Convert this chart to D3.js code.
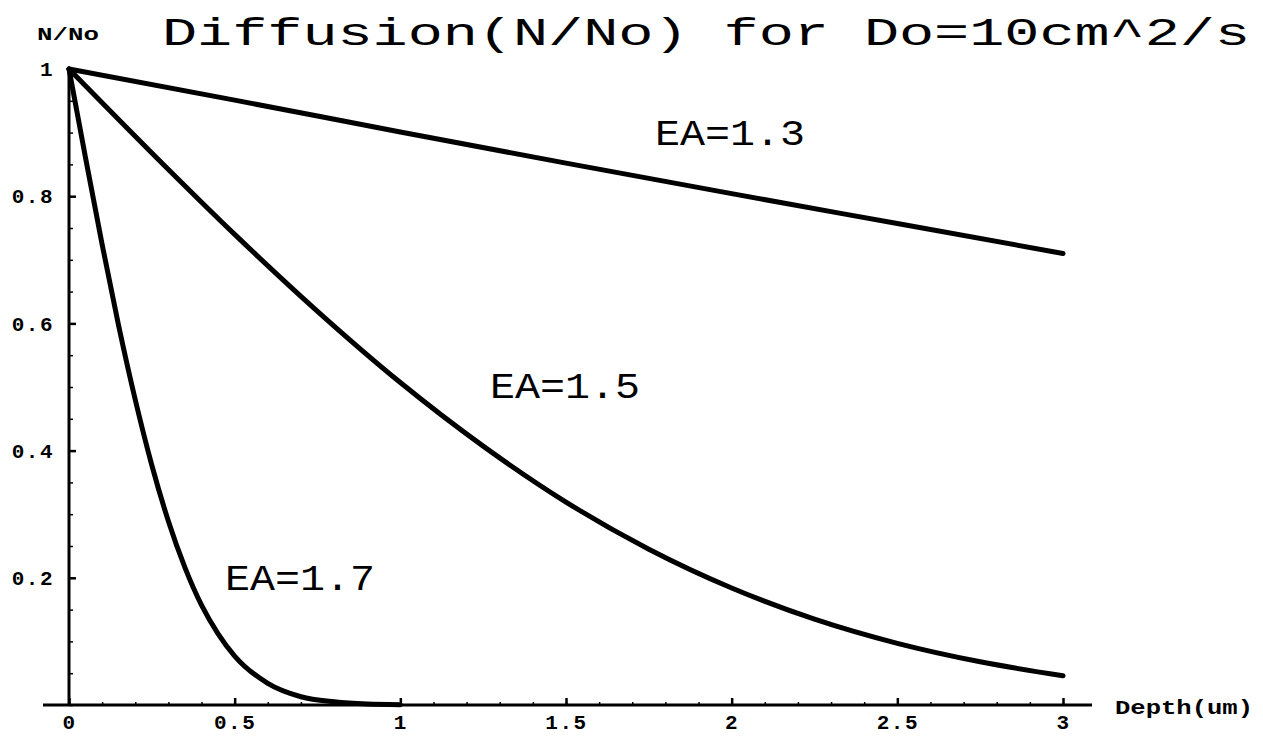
<!DOCTYPE html>
<html>
<head>
<meta charset="utf-8">
<script src="https://cdn.jsdelivr.net/npm/d3@7"></script>
<style>
  html, body { margin: 0; padding: 0; background: #fff; }
  svg { display: block; }
</style>
</head>
<body>
<svg id="chart" width="1263" height="739"></svg>
<script>
// ---- data ----
const depth13 = [0, 0.5, 1, 1.5, 2, 2.5, 3];
const ratio13 = [1, 0.951, 0.901, 0.852, 0.804, 0.757, 0.710];

const depth15 = [0, 0.25, 0.5, 0.75, 1, 1.25, 1.5, 1.75, 2, 2.25, 2.5, 2.75, 3];
const ratio15 = [1, 0.868, 0.740, 0.619, 0.507, 0.407, 0.319, 0.245, 0.184, 0.135, 0.097, 0.068, 0.046];

const depth17 = [0, 0.05, 0.1, 0.15, 0.2, 0.25, 0.3, 0.35, 0.4, 0.45, 0.5, 0.6, 0.7, 0.8, 0.9, 1.0];
const ratio17 = [1, 0.860, 0.724, 0.596, 0.480, 0.377, 0.289, 0.216, 0.157, 0.112, 0.077, 0.034, 0.013, 0.005, 0.0015, 0.0005];

const seriesNames = ["EA=1.3", "EA=1.5", "EA=1.7"];
const labelPos = [[1.769, 0.880], [1.271, 0.483], [0.471, 0.181]]; // label anchor (left, baseline) in data units

const xMajorTicks = [0, 0.5, 1, 1.5, 2, 2.5, 3];
const xTickLabels = ["0", "0.5", "1", "1.5", "2", "2.5", "3"];
const yMajorTicks = [0.2, 0.4, 0.6, 0.8, 1];
const yTickLabels = ["0.2", "0.4", "0.6", "0.8", "1"];

const titleText = "Diffusion(N/No) for Do=10cm^2/s";
const yAxisTitle = "N/No";
const xAxisTitle = "Depth(um)";

// ---- drawing ----
const svg = d3.select("#chart");
const x = d3.scaleLinear().domain([0, 3]).range([69, 1063]);
const y = d3.scaleLinear().domain([0, 1]).range([705, 69]);

const mono = "'Liberation Mono', 'DejaVu Sans Mono', monospace";

const xMinor = d3.range(0, 3.0001, 0.1).map(v => +v.toFixed(2));
const yMinor = d3.range(0, 1.0001, 0.05).map(v => +v.toFixed(2));

// X axis
const gx = svg.append("g").attr("transform", `translate(0,${y(0)})`);
gx.append("line").attr("x1", 43).attr("x2", 1092).attr("y1", 0).attr("y2", 0)
  .attr("stroke", "#000").attr("stroke-width", 3);
gx.call(d3.axisTop(x).tickValues(xMinor).tickSize(3).tickFormat(""))
  .call(g => g.select(".domain").remove())
  .call(g => g.selectAll(".tick line").attr("stroke-width", 1.5));
svg.append("g").attr("transform", `translate(0,${y(0)})`)
  .call(d3.axisTop(x).tickValues(xMajorTicks).tickSize(7).tickFormat(""))
  .call(g => g.select(".domain").remove())
  .call(g => g.selectAll(".tick line").attr("stroke-width", 2.5));
const gxl = svg.append("g").attr("transform", `translate(0,${y(0)})`)
  .call(d3.axisBottom(x).tickValues(xMajorTicks).tickSize(0).tickPadding(11)
    .tickFormat((d, i) => xTickLabels[i]))
  .call(g => g.select(".domain").remove());
gxl.selectAll("text").attr("font-family", mono).attr("font-size", 21)
  .attr("font-weight", "bold").attr("fill", "#000")
  .attr("dy", "0.62em")
  .attr("letter-spacing", 1.5);

// Y axis
const gy = svg.append("g").attr("transform", `translate(${x(0)},0)`);
gy.append("line").attr("x1", 0).attr("x2", 0).attr("y1", y(1) - 1).attr("y2", y(0) + 1)
  .attr("stroke", "#000").attr("stroke-width", 3);
gy.call(d3.axisRight(y).tickValues(yMinor).tickSize(4).tickFormat(""))
  .call(g => g.select(".domain").remove())
  .call(g => g.selectAll(".tick line").attr("stroke-width", 1.5));
svg.append("g").attr("transform", `translate(${x(0)},0)`)
  .call(d3.axisRight(y).tickValues(yMajorTicks).tickSize(7).tickFormat(""))
  .call(g => g.select(".domain").remove())
  .call(g => g.selectAll(".tick line").attr("stroke-width", 2.5));
const gyl = svg.append("g").attr("transform", `translate(${x(0)},0)`)
  .call(d3.axisLeft(y).tickValues(yMajorTicks).tickSize(0).tickPadding(15)
    .tickFormat((d, i) => yTickLabels[i]))
  .call(g => g.select(".domain").remove());
gyl.selectAll("text").attr("font-family", mono).attr("font-size", 21)
  .attr("font-weight", "bold").attr("fill", "#000").attr("letter-spacing", 1.5);

// Curves
const line = d3.line().x(d => x(d[0])).y(d => y(d[1])).curve(d3.curveMonotoneX);
const series = [
  d3.zip(depth13, ratio13),
  d3.zip(depth15, ratio15),
  d3.zip(depth17, ratio17)
];
svg.append("g").selectAll("path").data(series).join("path")
  .attr("d", line)
  .attr("fill", "none").attr("stroke", "#000").attr("stroke-width", 5)
  .attr("stroke-linecap", "round").attr("stroke-linejoin", "round");

// Curve labels
svg.append("g").selectAll("text").data(seriesNames).join("text")
  .attr("x", (d, i) => x(labelPos[i][0]))
  .attr("y", (d, i) => y(labelPos[i][1]))
  .attr("font-family", mono).attr("font-size", 37).attr("fill", "#000")
  .attr("textLength", 150).attr("lengthAdjust", "spacingAndGlyphs")
  .text(d => d);

// Titles
svg.append("text").attr("x", 162).attr("y", 45)
  .attr("font-family", mono).attr("font-size", 38).attr("fill", "#000")
  .attr("textLength", 1088).attr("lengthAdjust", "spacingAndGlyphs")
  .text(titleText);
svg.append("text").attr("x", 37).attr("y", 40)
  .attr("font-family", mono).attr("font-size", 19).attr("font-weight", "bold").attr("fill", "#000")
  .attr("textLength", 62).attr("lengthAdjust", "spacingAndGlyphs")
  .text(yAxisTitle);
svg.append("text").attr("x", 1115).attr("y", 714)
  .attr("font-family", mono).attr("font-size", 20).attr("font-weight", "bold").attr("fill", "#000")
  .attr("textLength", 138).attr("lengthAdjust", "spacingAndGlyphs")
  .text(xAxisTitle);
</script>
</body>
</html>
